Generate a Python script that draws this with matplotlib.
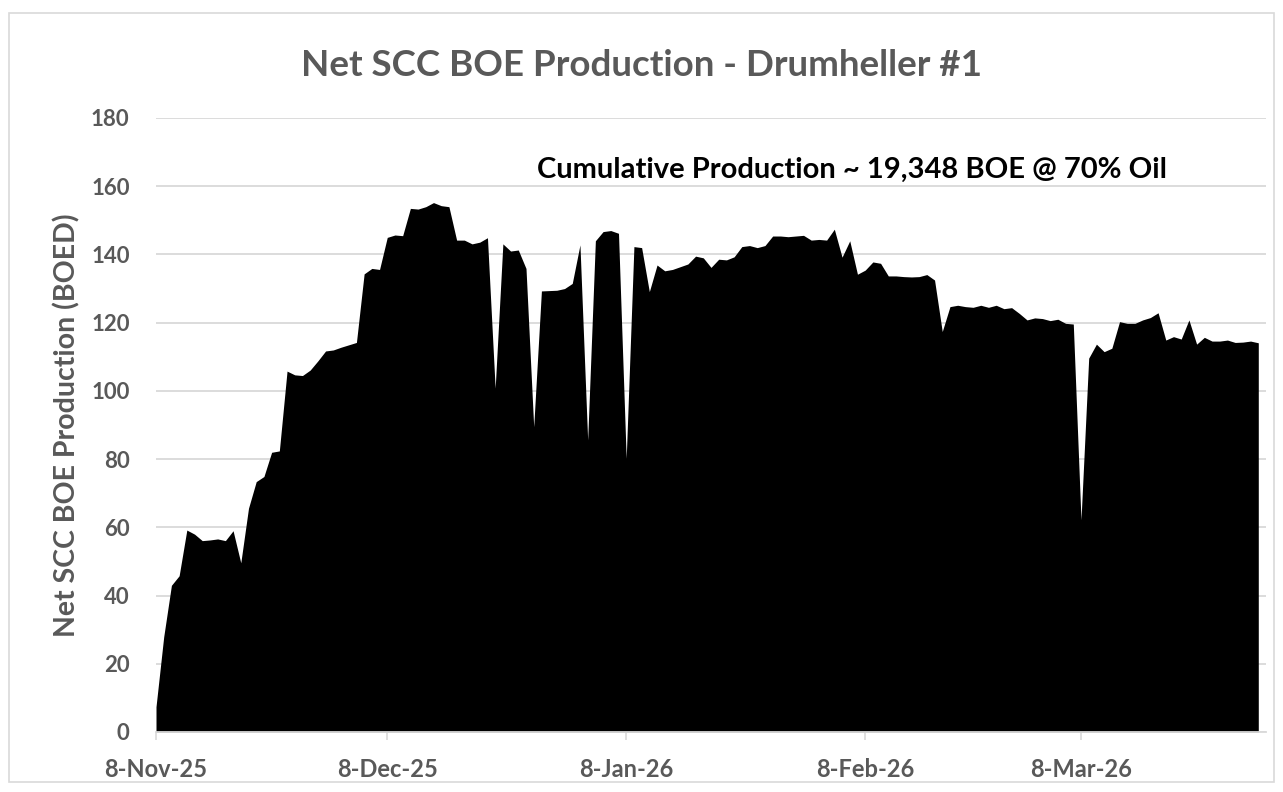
import numpy as np
import pandas as pd
import matplotlib
matplotlib.use("Agg")
import matplotlib.pyplot as plt
import matplotlib.patches as mpatches

plt.rcParams['font.family'] = ['Lato', 'DejaVu Sans']

# daily net BOE production, 8-Nov-25 .. 31-Mar-26
start_date = "2025-11-08"
boed = [
    7.4, 27.9, 43.0, 45.8, 59.2, 58.0, 56.1, 56.3, 56.6, 56.1,
    59.0, 49.6, 65.6, 73.4, 74.9, 82.0, 82.4, 105.8, 104.7, 104.5,
    106.1, 108.8, 111.7, 112.0, 112.8, 113.5, 114.2, 134.3, 135.9, 135.6,
    145.0, 145.7, 145.5, 153.5, 153.3, 154.0, 155.2, 154.3, 154.0, 144.2,
    144.2, 143.1, 143.6, 144.9, 100.8, 143.1, 141.0, 141.3, 135.9, 89.5,
    129.3, 129.4, 129.5, 130.0, 131.5, 142.8, 85.6, 144.0, 146.7, 147.0,
    146.2, 80.2, 142.3, 142.0, 129.1, 136.9, 135.2, 135.6, 136.4, 137.2,
    139.5, 139.0, 136.2, 138.6, 138.4, 139.3, 142.3, 142.6, 142.0, 142.6,
    145.4, 145.4, 145.2, 145.4, 145.6, 144.2, 144.4, 144.2, 147.4, 139.2,
    144.0, 134.2, 135.4, 137.8, 137.4, 133.7, 133.7, 133.5, 133.4, 133.5,
    134.1, 132.5, 117.4, 124.7, 125.1, 124.7, 124.5, 125.1, 124.5, 125.1,
    124.1, 124.4, 122.7, 120.8, 121.4, 121.2, 120.6, 121.0, 119.8, 119.6,
    62.2, 109.6, 113.7, 111.5, 112.5, 120.3, 119.8, 119.8, 120.8, 121.5,
    122.9, 114.9, 115.9, 115.2, 120.8, 113.7, 115.7, 114.6, 114.6, 114.9,
    114.2, 114.3, 114.6, 114.1,
]
dates = pd.date_range(start_date, periods=len(boed), freq="D")

tick_dates = pd.to_datetime(["2025-11-08", "2025-12-08", "2026-01-08", "2026-02-08", "2026-03-08"])
tick_labels = ["8-Nov-25", "8-Dec-25", "8-Jan-26", "8-Feb-26", "8-Mar-26"]
y_ticks = list(range(0, 181, 20))

title = "Net SCC BOE Production - Drumheller #1"
y_label = "Net SCC BOE Production (BOED)"
note = "Cumulative Production ~ 19,348 BOE @ 70% Oil"

grey = "#595959"
grid_grey = "#d9d9d9"

fig = plt.figure(figsize=(12.83, 7.92), dpi=100, facecolor="white")
# outer chart frame
fig.patches.append(mpatches.Rectangle((9 / 1283, 1 - 782 / 792), 1265 / 1283, 769 / 792,
                                      transform=fig.transFigure, fill=False,
                                      edgecolor=grid_grey, linewidth=1.2))

ax = fig.add_axes([156 / 1283, 1 - 732 / 792, 1110 / 1283, 614 / 792])
ax.fill_between(dates, boed, 0, color="black", linewidth=0, zorder=3)

ax.set_xlim(pd.Timestamp("2025-11-08"), pd.Timestamp("2026-04-01"))
ax.set_ylim(0, 180)
ax.set_yticks(y_ticks)
ax.set_xticks(tick_dates)
ax.set_xticklabels(tick_labels)

ax.grid(axis="y", color=grid_grey, linewidth=1.3, zorder=0)
for side in ["top", "right", "left"]:
    ax.spines[side].set_visible(False)
ax.spines["bottom"].set_color(grid_grey)
ax.spines["bottom"].set_linewidth(1.3)
ax.spines["bottom"].set_zorder(4)

ax.tick_params(axis="y", length=0, pad=19, labelsize=16, labelcolor=grey)
ax.tick_params(axis="x", length=6, width=1.2, color=grid_grey, pad=13, labelsize=17, labelcolor=grey)
for lbl in ax.get_xticklabels() + ax.get_yticklabels():
    lbl.set_fontweight("bold")

fig.text(67 / 1283, 1 - 425 / 792, y_label, rotation=90, ha="center", va="center",
         fontsize=20.5, fontweight="bold", color=grey)
fig.text(0.5, 1 - 65 / 792, title, ha="center", va="center",
         fontsize=26.5, fontweight="bold", color=grey)
ax.text(0.627, 0.916, note, transform=ax.transAxes, ha="center", va="center",
        fontsize=21, fontweight="bold", color="black", zorder=5)

plt.savefig("out.png", dpi=100, facecolor="white")
plt.close(fig)
